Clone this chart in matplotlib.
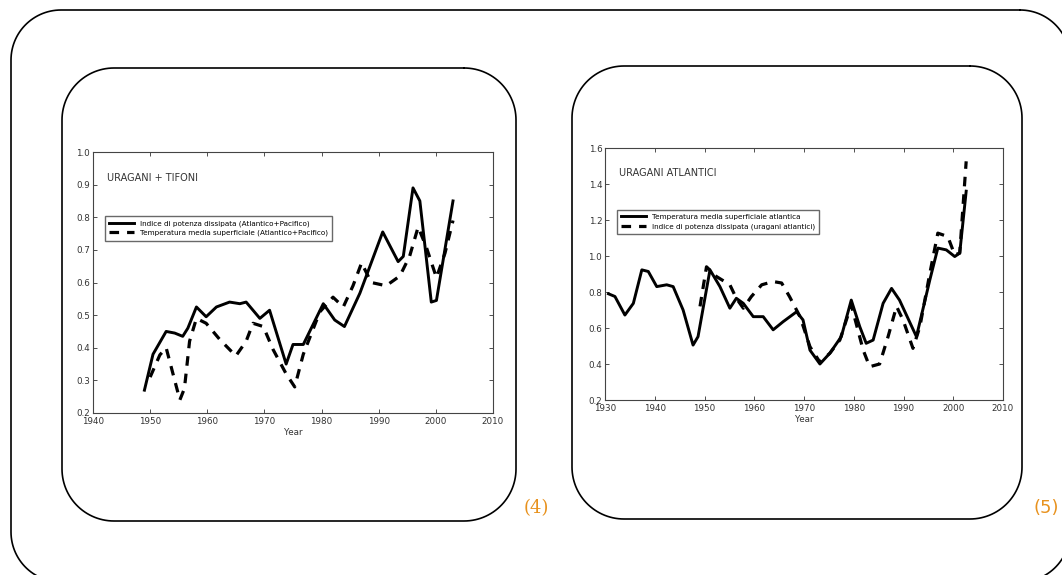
import numpy as np
import matplotlib.pyplot as plt

# left panel: hurricanes + typhoons (Atlantic + Pacific)
pdi_years_l = [1949.0, 1950.5, 1952.8, 1954.3, 1955.7, 1956.6, 1958.1, 1959.8, 1961.6, 1963.9,
               1965.7, 1966.8, 1969.2, 1970.9, 1973.8, 1975.0, 1976.8, 1980.3, 1982.3, 1984.0,
               1986.7, 1990.7, 1993.4, 1994.3, 1996.0, 1997.2, 1999.2, 2000.1, 2003.0]
pdi_vals_l = [0.27, 0.38, 0.45, 0.445, 0.435, 0.46, 0.525, 0.495, 0.525, 0.54,
              0.535, 0.54, 0.49, 0.515, 0.35, 0.41, 0.41, 0.535, 0.485, 0.465,
              0.567, 0.755, 0.664, 0.68, 0.89, 0.85, 0.54, 0.545, 0.85]
sst_years_l = [1950.0, 1951.7, 1952.8, 1954.0, 1955.2, 1956.0, 1956.9, 1958.1, 1959.8, 1962.2,
               1965.0, 1966.8, 1968.0, 1969.8, 1971.5, 1973.8, 1975.3, 1976.8, 1979.7, 1982.0,
               1983.8, 1985.5, 1987.0, 1988.7, 1991.3, 1993.7, 1995.4, 1996.9, 1998.3, 2000.1,
               2001.6, 2003.0]
sst_vals_l = [0.31, 0.378, 0.40, 0.32, 0.24, 0.275, 0.42, 0.49, 0.475, 0.425,
              0.375, 0.42, 0.475, 0.465, 0.395, 0.32, 0.28, 0.38, 0.51, 0.555,
              0.525, 0.59, 0.66, 0.60, 0.59, 0.62, 0.68, 0.77, 0.71, 0.615,
              0.69, 0.79]

# right panel: Atlantic hurricanes
sst_years_r = [1930.7, 1932.0, 1934.0, 1935.7, 1937.4, 1938.7, 1940.4, 1942.4, 1943.7, 1945.7,
               1947.7, 1948.7, 1951.1, 1953.1, 1955.1, 1956.4, 1957.8, 1959.8, 1961.8, 1963.8,
               1965.8, 1968.5, 1969.8, 1971.2, 1973.2, 1975.2, 1977.5, 1979.5, 1981.2, 1982.5,
               1983.9, 1985.9, 1987.6, 1989.2, 1992.6, 1995.3, 1996.9, 1998.6, 2000.3, 2001.3,
               2002.6]
sst_vals_r = [0.79, 0.775, 0.672, 0.737, 0.923, 0.914, 0.83, 0.84, 0.83, 0.70,
              0.505, 0.552, 0.923, 0.83, 0.71, 0.765, 0.737, 0.663, 0.663, 0.59,
              0.635, 0.69, 0.645, 0.477, 0.40, 0.46, 0.552, 0.755, 0.608, 0.515,
              0.533, 0.737, 0.82, 0.755, 0.552, 0.868, 1.044, 1.034, 0.997, 1.016,
              1.36]
pdi_years_r = [1949.1, 1950.4, 1952.4, 1955.1, 1956.4, 1957.8, 1959.4, 1961.5, 1963.8, 1965.5,
               1967.1, 1969.2, 1971.2, 1973.2, 1975.2, 1977.2, 1979.5, 1981.9, 1983.2, 1985.2,
               1986.9, 1988.6, 1989.9, 1991.9, 1993.3, 1995.3, 1996.9, 1998.9, 2000.3, 2001.3,
               2002.6]
pdi_vals_r = [0.72, 0.94, 0.886, 0.84, 0.765, 0.71, 0.774, 0.84, 0.858, 0.85,
              0.774, 0.663, 0.496, 0.41, 0.46, 0.533, 0.728, 0.477, 0.385, 0.40,
              0.552, 0.72, 0.645, 0.487, 0.608, 0.905, 1.127, 1.108, 1.006, 1.016,
              1.526]

W, H = 1062, 575
fig = plt.figure(figsize=(W / 100, H / 100), dpi=100)

# background layer in pixel units for the rounded frames
bg = fig.add_axes([0, 0, 1, 1])
bg.set_xlim(0, W)
bg.set_ylim(H, 0)
bg.axis('off')


def rounded_box(x0, y0, x1, y1, r):
    xs, ys = [], []
    corners = [(x1 - r, y0 + r, -90, 0), (x1 - r, y1 - r, 0, 90),
               (x0 + r, y1 - r, 90, 180), (x0 + r, y0 + r, 180, 270)]
    for cx, cy, a0, a1 in corners:
        t = np.radians(np.linspace(a0, a1, 30))
        xs.extend(cx + r * np.cos(t))
        ys.extend(cy + r * np.sin(t))
    xs.append(xs[0])
    ys.append(ys[0])
    bg.plot(xs, ys, color='black', lw=1.2, solid_capstyle='round')


rounded_box(11, 10, 1070, 582, 50)
rounded_box(62, 68, 516, 521, 52)
rounded_box(572, 66, 1022, 519, 52)
bg.set_xlim(0, W)
bg.set_ylim(H, 0)
bg.text(536, 508, '(4)', color='#E8921E', fontsize=13, family='DejaVu Serif',
        ha='center', va='center')
bg.text(1046, 508, '(5)', color='#E8921E', fontsize=13, family='DejaVu Sans',
        ha='center', va='center')


def panel(rect, x_s, y_s, x_d, y_d, lab_s, lab_d, title, xlim, ylim, yticks):
    ax = fig.add_axes([rect[0] / W, 1 - rect[3] / H, (rect[2] - rect[0]) / W, (rect[3] - rect[1]) / H])
    ax.plot(x_s, y_s, color='black', lw=2.1, label=lab_s)
    ax.plot(x_d, y_d, color='black', lw=2.3, ls=(0, (3, 2.5)), label=lab_d)
    ax.set_xlim(*xlim)
    ax.set_ylim(*ylim)
    ax.set_xticks(np.arange(xlim[0], xlim[1] + 1, 10))
    ax.set_yticks(yticks)
    ax.set_yticklabels([f'{v:.1f}' for v in yticks])
    ax.tick_params(direction='in', top=True, right=True, labelsize=6.3, length=3, width=0.6,
                   colors='#333333')
    ax.tick_params(axis='x', pad=3)
    ax.tick_params(axis='y', pad=2)
    for s in ax.spines.values():
        s.set_linewidth(0.8)
        s.set_color('#444444')
    ax.set_xlabel('Year', fontsize=6.3, labelpad=1, color='#333333')
    ax.text(0.035, 0.90, title, transform=ax.transAxes, fontsize=7, color='#333333',
            va='center')
    ax.legend(loc='upper left', bbox_to_anchor=(0.02, 0.77), fontsize=5.2, frameon=True,
              fancybox=False, edgecolor='#444444', handlelength=3.5, borderpad=0.6,
              labelspacing=0.45)
    return ax


panel((93, 152, 493, 413), pdi_years_l, pdi_vals_l, sst_years_l, sst_vals_l,
      'Indice di potenza dissipata (Atlantico+Pacifico)',
      'Temperatura media superficiale (Atlantico+Pacifico)',
      'URAGANI + TIFONI', (1940, 2010), (0.2, 1.0), np.arange(0.2, 1.01, 0.1))

panel((605, 148, 1003, 400), sst_years_r, sst_vals_r, pdi_years_r, pdi_vals_r,
      'Temperatura media superficiale atlantica',
      'Indice di potenza dissipata (uragani atlantici)',
      'URAGANI ATLANTICI', (1930, 2010), (0.2, 1.6), np.arange(0.2, 1.61, 0.2))

fig.savefig('out.png', dpi=100)
